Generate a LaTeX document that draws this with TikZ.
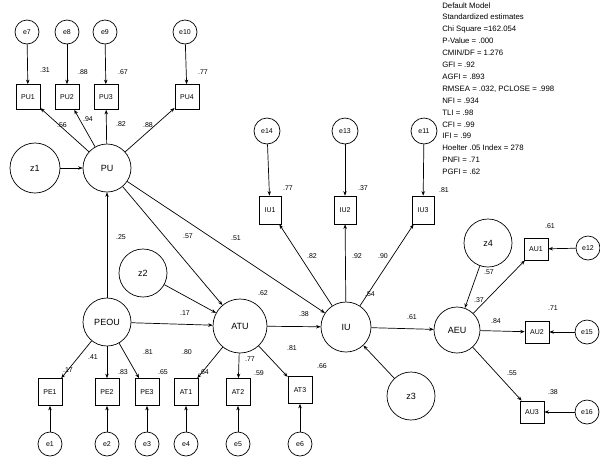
\documentclass[tikz,border=0pt]{standalone}
\usepackage{fontspec}
\setmainfont{Liberation Sans}
\usetikzlibrary{arrows.meta}
\begin{document}
\begin{tikzpicture}[x=1pt,y=-1pt,
  line width=0.7pt,
  arr/.style={-{Stealth[length=4.5pt,width=3.5pt]}},
  latent/.style={circle,draw,minimum size=50pt,inner sep=0pt,font=\fontsize{9}{10}\selectfont},
  dist/.style={circle,draw,minimum size=48pt,inner sep=0pt,font=\fontsize{9}{10}\selectfont},
  err/.style={circle,draw,minimum size=24pt,inner sep=0pt,font=\fontsize{7}{8}\selectfont},
  obs/.style={rectangle,draw,minimum width=24pt,minimum height=25pt,inner sep=0pt,font=\fontsize{7}{8}\selectfont},
  lbl/.style={inner sep=0pt,font=\fontsize{7}{8}\selectfont},
  fit/.style={inner sep=0pt,align=left,font=\fontsize{7.8}{11.9}\selectfont}]
\useasboundingbox (0,0) rectangle (600,459);
\fill[white] (0,0) rectangle (600,459);

% fit statistics
\node[fit,anchor=north west] (stats) at (442,2) {Default Model\\Standardized estimates\\Chi Square =162.054\\P-Value = .000\\CMIN/DF = 1.276\\GFI = .92\\AGFI = .893\\RMSEA = .032, PCLOSE = .998\\NFI = .934\\TLI = .98\\CFI = .99\\IFI = .99\\Hoelter .05 Index = 278\\PNFI = .71\\PGFI = .62};

% PU block
\node[err] (e7) at (27,32) {e7};
\node[err] (e8) at (67,32) {e8};
\node[err] (e9) at (105,32) {e9};
\node[err] (e10) at (185,32) {e10};
\node[obs] (pu1) at (28,97) {PU1};
\node[obs] (pu2) at (67,97) {PU2};
\node[obs] (pu3) at (106,97) {PU3};
\node[obs] (pu4) at (187,97) {PU4};
\node[dist,minimum size=50pt] (z1) at (35,168) {z1};
\node[latent,minimum size=48pt] (pu) at (107,168) {PU};

% middle indicators
\node[err,minimum size=26pt] (e14) at (267,131) {e14};
\node[err,minimum size=26pt] (e13) at (345,131) {e13};
\node[err,minimum size=26pt] (e11) at (424,131) {e11};
\node[obs,minimum width=22pt,minimum height=28pt] (iu1) at (270,210) {IU1};
\node[obs,minimum width=22pt,minimum height=28pt] (iu2) at (345,210) {IU2};
\node[obs,minimum width=22pt,minimum height=28pt] (iu3) at (423,210) {IU3};

% latents
\node[latent,minimum size=48pt] (peou) at (107,322) {PEOU};
\node[dist] (z2) at (143,273) {z2};
\node[latent,minimum size=54pt] (atu) at (240,326) {ATU};
\node[latent] (iu) at (346,327) {IU};
\node[latent,minimum size=46pt] (aeu) at (457,330) {AEU};
\node[dist] (z3) at (411,396) {z3};
\node[dist] (z4) at (488,243) {z4};

% right indicators
\node[obs,minimum height=22pt] (au1) at (536,249) {AU1};
\node[obs,minimum height=22pt] (au2) at (537,332) {AU2};
\node[obs,minimum height=22pt] (au3) at (532,412) {AU3};
\node[err] (e12) at (588,248) {e12};
\node[err] (e15) at (587,332) {e15};
\node[err] (e16) at (587,412) {e16};

% bottom indicators
\node[obs,minimum height=27pt] (pe1) at (50,392) {PE1};
\node[obs,minimum height=27pt] (pe2) at (107,392) {PE2};
\node[obs,minimum height=27pt] (pe3) at (147,392) {PE3};
\node[obs,minimum height=27pt] (at1) at (186,392) {AT1};
\node[obs,minimum height=27pt] (at2) at (238,392) {AT2};
\node[obs,minimum height=27pt] (at3) at (300,390) {AT3};
\node[err] (e1) at (50,444) {e1};
\node[err] (e2) at (107,444) {e2};
\node[err] (e3) at (147,444) {e3};
\node[err] (e4) at (186,444) {e4};
\node[err] (e5) at (238,444) {e5};
\node[err] (e6) at (300,444) {e6};

% connectors
\foreach \a/\b in {e7/pu1,e8/pu2,e9/pu3,e10/pu4,pu/pu1,pu/pu2,pu/pu3,pu/pu4,z1/pu,peou/pu,
  pu/atu,pu/iu,z2/atu,peou/atu,peou/pe1,peou/pe2,peou/pe3,
  e1/pe1,e2/pe2,e3/pe3,e4/at1,e5/at2,e6/at3,atu/at1,atu/at2,atu/at3,atu/iu,
  iu/iu1,iu/iu2,iu/iu3,e14/iu1,e13/iu2,e11/iu3,z3/iu,iu/aeu,z4/aeu,
  aeu/au1,aeu/au2,aeu/au3,e12/au1,e15/au2,e16/au3}
  \draw[arr] (\a) -- (\b);

% squared multiple correlations and loadings
\node[lbl] (r1) at (45,70) {.31};
\node[lbl] (r2) at (83,72) {.88};
\node[lbl] (r3) at (123,72) {.67};
\node[lbl] (r4) at (203,72) {.77};
\node[lbl] (l1) at (62,125) {.56};
\node[lbl] (l2) at (88,119) {.94};
\node[lbl] (l3) at (121,124) {.82};
\node[lbl] (l4) at (148,125) {.88};
\node[lbl] (r5) at (288,188) {.77};
\node[lbl] (r6) at (363,188) {.37};
\node[lbl] (r7) at (444,190) {.81};
\node[lbl] (l5) at (312,256) {.82};
\node[lbl] (l6) at (357,256) {.92};
\node[lbl] (l7) at (383,256) {.90};
\node[lbl] (p1) at (121,237) {.25};
\node[lbl] (p2) at (188,236) {.57};
\node[lbl] (p3) at (236,238) {.51};
\node[lbl] (p4) at (185,313) {.17};
\node[lbl] (r8) at (263,293) {.62};
\node[lbl] (p5) at (304,314) {.38};
\node[lbl] (r9) at (370,294) {.54};
\node[lbl] (p6) at (412,317) {.61};
\node[lbl] (r10) at (479,300) {.37};
\node[lbl] (p7) at (489,272) {.57};
\node[lbl] (r11) at (550,226) {.61};
\node[lbl] (p8) at (496,321) {.84};
\node[lbl] (r12) at (553,308) {.71};
\node[lbl] (p9) at (512,373) {.55};
\node[lbl] (r13) at (553,392) {.38};
\node[lbl] (r14) at (68,370) {.17};
\node[lbl] (r15) at (123,372) {.83};
\node[lbl] (r16) at (163,372) {.65};
\node[lbl] (r17) at (204,372) {.64};
\node[lbl] (r18) at (259,373) {.59};
\node[lbl] (r19) at (322,366) {.66};
\node[lbl] (l8) at (93,357) {.41};
\node[lbl] (l9) at (148,352) {.81};
\node[lbl] (l10) at (187,352) {.80};
\node[lbl] (l11) at (250,359) {.77};
\node[lbl] (l12) at (292,348) {.81};
\end{tikzpicture}
\end{document}
